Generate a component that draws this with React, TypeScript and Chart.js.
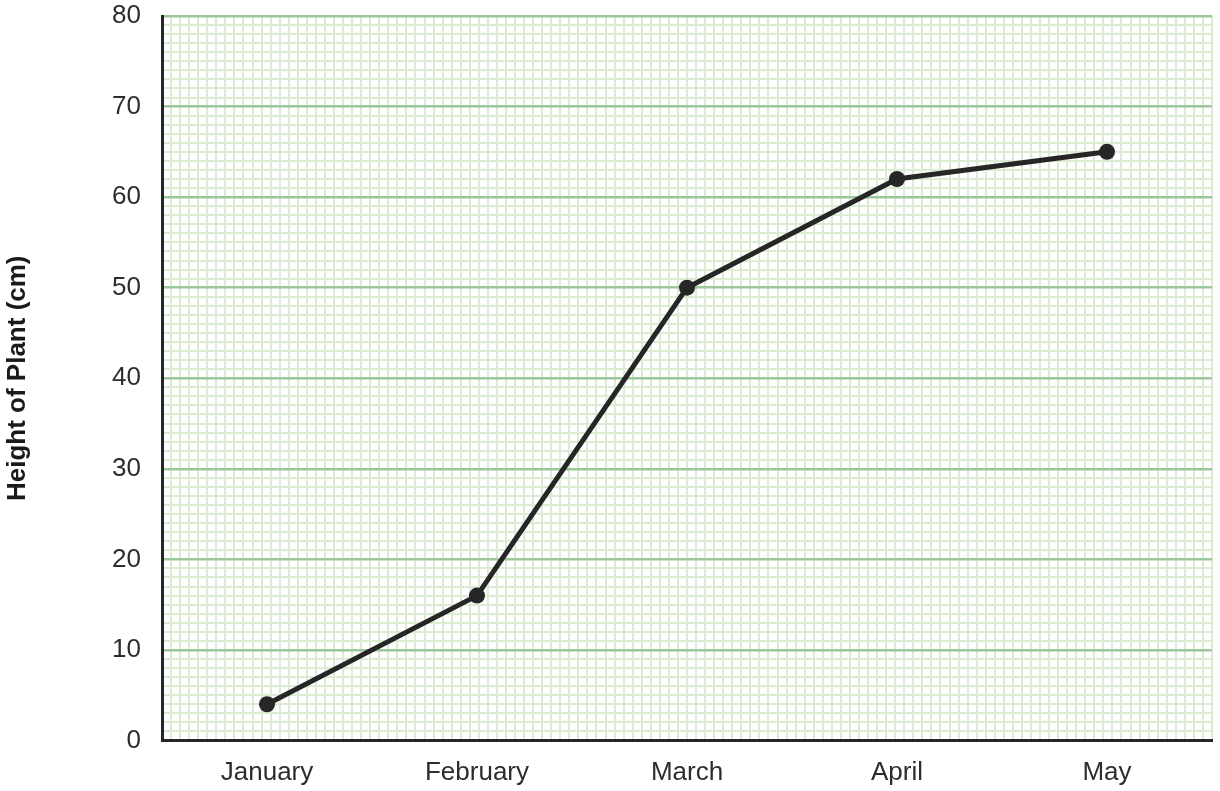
import React, { useEffect, useRef } from "react";
import { Chart, registerables } from "chart.js";

Chart.register(...registerables);

const months = ["January", "February", "March", "April", "May"];
const heights = [4, 16, 50, 62, 65];
const yMin = 0;
const yMax = 80;
const yMajorStep = 10;
const minorColumns = 116;

const MAJOR = "#9dc89b";
const MINOR = "#dcecd2";
const INK = "#262626";
const TEXT = "#2d2d2d";

export default function App() {
  const ref = useRef<HTMLCanvasElement | null>(null);

  useEffect(() => {
    document.body.style.margin = "0";
    const canvas = ref.current;
    if (!canvas) return;
    const chart = new Chart(canvas, {
      type: "line",
      data: {
        labels: months,
        datasets: [
          {
            data: heights,
            xAxisID: "x",
            yAxisID: "y",
            borderColor: INK,
            borderWidth: 5,
            backgroundColor: INK,
            pointBackgroundColor: INK,
            pointBorderColor: INK,
            pointBorderWidth: 0,
            pointRadius: 8,
            tension: 0,
            fill: false,
          },
        ],
      },
      options: {
        animation: false,
        responsive: true,
        maintainAspectRatio: false,
        events: [],
        layout: { autoPadding: false, padding: { top: 16, right: 8, left: 0, bottom: 0 } },
        plugins: {
          legend: { display: false },
          tooltip: { enabled: false },
          title: { display: false },
        },
        scales: {
          x2: {
            type: "linear",
            position: "top",
            min: 0,
            max: minorColumns,
            z: -1,
            ticks: { display: false, stepSize: 1, autoSkip: false },
            grid: { color: MINOR, lineWidth: 2, drawTicks: false },
            border: { display: false },
            afterFit: (s: any) => {
              s.height = 0;
            },
          },
          x: {
            type: "category",
            position: "bottom",
            offset: true,
            grid: { display: false, drawTicks: false },
            border: { display: true, color: INK, width: 3 },
            ticks: {
              color: TEXT,
              padding: 17,
              font: { family: "'Liberation Sans', Arial, sans-serif", size: 26 },
            },
            afterFit: (s: any) => {
              s.height = 50.5;
            },
          },
          y: {
            type: "linear",
            position: "left",
            min: yMin,
            max: yMax,
            z: 0,
            border: { display: true, color: INK, width: 3 },
            grid: {
              drawTicks: false,
              lineWidth: (ctx: any) => (ctx.tick && ctx.tick.value % yMajorStep === 0 ? 2.5 : 2),
              color: (ctx: any) => (ctx.tick && ctx.tick.value % yMajorStep === 0 ? MAJOR : MINOR),
            },
            ticks: {
              stepSize: 1,
              autoSkip: false,
              color: TEXT,
              padding: 21,
              font: { family: "'Liberation Sans', Arial, sans-serif", size: 26 },
              callback: (v: any) => (Number(v) % yMajorStep === 0 ? String(v) : ""),
            },
            title: {
              display: true,
              text: "Height of Plant (cm)",
              color: "#1a1a1a",
              padding: { top: 5, bottom: 0 },
              font: { family: "'Liberation Sans', Arial, sans-serif", size: 26, weight: "bold", lineHeight: 1 },
            },
            afterFit: (s: any) => {
              s.width = 162;
              s.paddingTop = 0;
              s.paddingBottom = 0;
            },
          },
        },
      },
    });
    return () => chart.destroy();
  }, []);

  return (
    <div style={{ position: "absolute", left: 0, top: 0, width: 1220, height: 791, background: "#ffffff" }}>
      <canvas ref={ref} />
    </div>
  );
}
